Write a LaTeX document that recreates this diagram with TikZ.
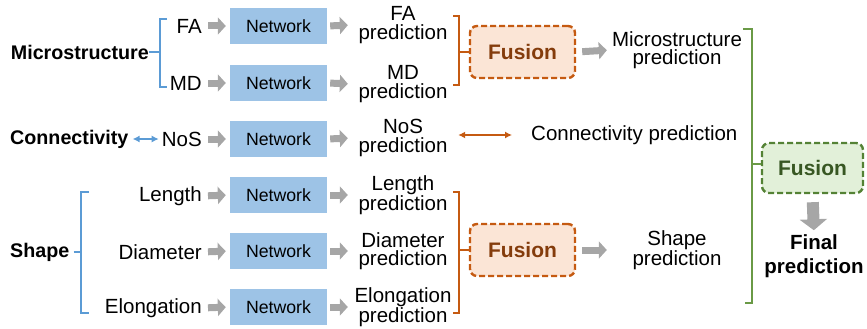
\documentclass[tikz,border=0pt]{standalone}
\usepackage{fontspec}
\setmainfont{Liberation Sans}
\usetikzlibrary{arrows.meta}
\definecolor{netblue}{HTML}{9DC3E6}
\definecolor{brblue}{HTML}{5B9BD5}
\definecolor{arrgray}{HTML}{A6A6A6}
\definecolor{fuor}{HTML}{C55A11}
\definecolor{fuorfill}{HTML}{FBE5D6}
\definecolor{fuortext}{HTML}{843C0C}
\definecolor{fugr}{HTML}{548235}
\definecolor{fugrfill}{HTML}{E2F0D9}
\definecolor{fugrtext}{HTML}{385723}
\definecolor{brgreen}{HTML}{6A9A46}
\begin{document}
\begin{tikzpicture}[x=1pt,y=-1pt,
  lbl/.style={inner sep=0pt, font=\fontsize{20.5}{18.5}\selectfont},
  pred/.style={lbl, text width=100pt, align=center},
  cat/.style={inner sep=0pt, font=\bfseries\fontsize{19.7}{20}\selectfont},
  net/.style={fill=netblue, minimum width=97pt, minimum height=36pt, inner sep=0pt, font=\fontsize{17.7}{18}\selectfont},
  garrow/.style={draw=arrgray, line width=7pt, -{Triangle[length=8pt,width=17pt]}},
  fusionbox/.style={line width=2.4pt, dash pattern=on 6pt off 3pt, rounded corners=7pt, inner sep=0pt, font=\bfseries\fontsize{21}{22}\selectfont},
  fusionO/.style={fusionbox, draw=fuor, fill=fuorfill, text=fuortext, minimum width=105pt, minimum height=52pt},
  fusionG/.style={fusionbox, draw=fugr, fill=fugrfill, text=fugrtext, minimum width=101pt, minimum height=50pt},
  bluebr/.style={draw=brblue, line width=1.3pt},
  orbr/.style={draw=fuor, line width=1.3pt},
  grbr/.style={draw=brgreen, line width=1.5pt},
  dtip/.style={{Latex[length=7pt,width=7pt]}-{Latex[length=7pt,width=7pt]}}
]
\useasboundingbox (0,0) rectangle (867,329);

% category labels
\node[cat, anchor=east] (micro) at (149,52) {Microstructure};
\node[cat, anchor=west] (conn) at (10,139) {Connectivity};
\node[cat, anchor=west] (shape) at (10,252) {Shape};

% inputs
\node[lbl, anchor=east] (fa) at (202,26) {FA};
\node[lbl, anchor=east] (md) at (202,83) {MD};
\node[lbl, anchor=east] (nos) at (202,139) {NoS};
\node[lbl, anchor=east] (len) at (202,196) {Length};
\node[lbl, anchor=east] (dia) at (202,252) {Diameter};
\node[lbl, anchor=east] (elo) at (202,308) {Elongation};

% networks
\node[net] (n1) at (278.5,26) {Network};
\node[net] (n2) at (278.5,83) {Network};
\node[net] (n3) at (278.5,139) {Network};
\node[net] (n4) at (278.5,195) {Network};
\node[net] (n5) at (278.5,251) {Network};
\node[net] (n6) at (278.5,307) {Network};

% predictions
\node[pred] (p1) at (403,25) {FA\\prediction};
\node[pred] (p2) at (403,84) {MD\\prediction};
\node[pred] (p3) at (403,138) {NoS\\prediction};
\node[pred] (p4) at (403,195) {Length\\prediction};
\node[pred] (p5) at (403,251) {Diameter\\prediction};
\node[pred] (p6) at (403,307) {Elongation\\prediction};

% arrows input -> network -> prediction
\foreach \a/\b/\c in {fa/n1/p1, md/n2/p2, nos/n3/p3, len/n4/p4, dia/n5/p5, elo/n6/p6}{
  \draw[garrow, shorten <=6pt, shorten >=4pt] (\a.east) -- (\b.west);
  \draw[garrow, shorten <=3pt, shorten >=5pt] (\b.east) -- (\c.west);
}

% blue brackets
\draw[bluebr] (167,19) -- (160,19) -- (160,87) -- (167,87);
\draw[bluebr] (micro.east) -- (160,52);
\draw[bluebr] (89,192) -- (81,192) -- (81,313) -- (89,313);
\draw[bluebr, shorten <=4pt] (shape.east) -- (81,252);
\draw[brblue, line width=1.3pt, dtip, shorten <=4pt, shorten >=3pt] (conn.east) -- (nos.west);

% fusion boxes
\node[fusionO] (fu1) at (522.5,52) {Fusion};
\node[fusionO] (fu2) at (522.5,250) {Fusion};
\node[fusionG] (fu3) at (812.5,168) {Fusion};

% orange brackets
\draw[orbr] (453,16) -- (459,16) -- (459,85) -- (453,85);
\draw[orbr] (459,52) -- (fu1.west);
\draw[orbr] (453,192) -- (459,192) -- (459,313) -- (453,313);
\draw[orbr] (459,250) -- (fu2.west);

% outputs
\node[pred, text width=132pt] (mp) at (677,50) {Microstructure\\prediction};
\node[lbl, anchor=west] (cp) at (531,135) {Connectivity prediction};
\node[pred, text width=132pt] (sp) at (677,250) {Shape\\prediction};
\draw[garrow, shorten <=6pt, shorten >=4pt] (fu1.east) -- (mp.west);
\draw[garrow, shorten <=6pt, shorten >=4pt] (fu2.east) -- (sp.west);
\draw[fuor, line width=1.3pt, dtip, shorten <=5pt, shorten >=19pt] (p3.east |- cp.west) -- (cp.west);

% green bracket
\draw[grbr] (743,29) -- (752,29) -- (752,303) -- (745,303);
\draw[grbr] (752,164) -- (fu3.west |- 0,164);

% final
\node[pred, font=\bfseries\fontsize{20.5}{24}\selectfont] (fin) at (814,256) {Final\\prediction};
\draw[draw=arrgray, line width=12pt, -{Triangle[length=11pt,width=27pt]}, shorten <=8pt, shorten >=4pt] (fu3.south) -- (fin.north);
\end{tikzpicture}
\end{document}
